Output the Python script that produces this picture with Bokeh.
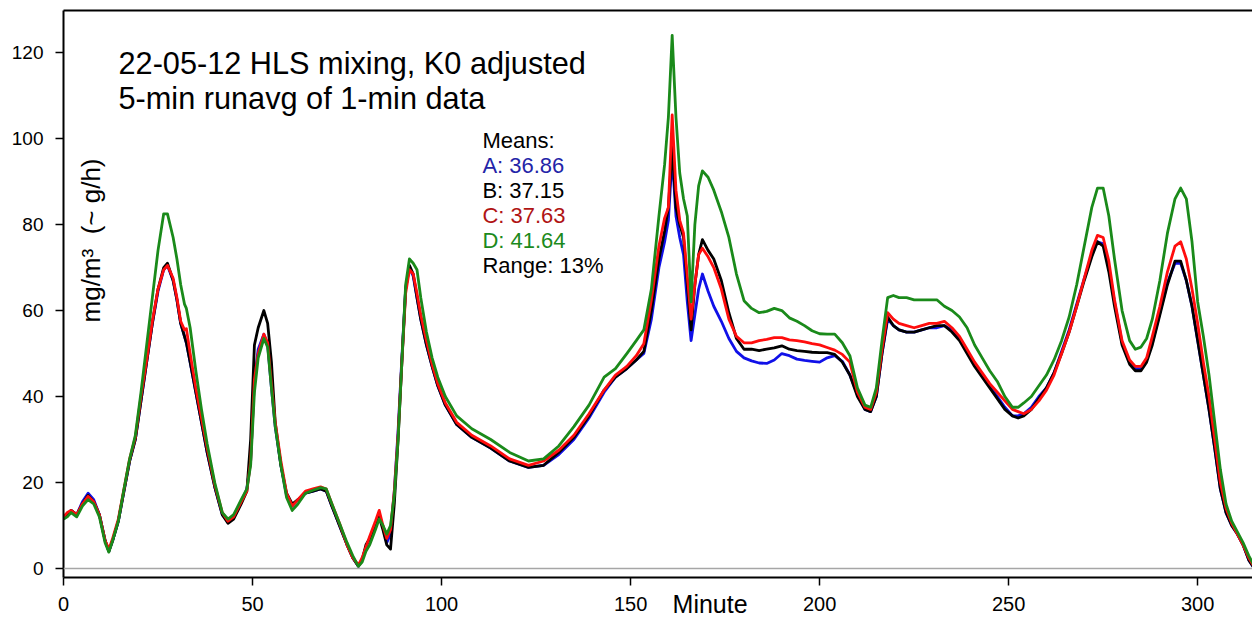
from bokeh.plotting import figure
from bokeh.models import Range1d, Span, Label, LinearAxis, FixedTicker
from bokeh.embed import file_html
from bokeh.resources import INLINE

minutes = [0, 1, 2, 3.5, 5, 6.5, 8, 9.5, 11, 12, 13, 14.5, 16, 17.5, 19, 20.5, 22, 23.5, 25, 26.5,
           27.5, 29, 30, 31, 32, 32.5, 33.5, 35, 36.5, 38, 40, 42, 43.5, 45, 47, 48.5, 49.5, 50.5, 51.5, 53,
           54, 55, 56, 57.5, 59, 60.5, 62, 64, 66, 68, 69.5, 71, 73, 75, 76.5, 78, 79, 80, 81, 82.5,
           83.5, 84.5, 85.5, 86.5, 87.5, 88.5, 89.5, 90.5, 91.5, 92.5, 93.5, 94.5, 96, 97.5, 99, 101, 104, 108, 113, 118,
           123, 127, 131, 135, 139, 143, 146, 149, 151.5, 153.5, 155.5, 157.5, 159, 160, 161, 162, 163, 164, 165, 166,
           167, 168, 169, 170.5, 172, 174, 176, 178, 180, 182, 184, 186, 188, 190, 192, 194, 196, 198, 200, 202,
           204, 206, 208, 210, 212, 213.5, 215, 216.5, 218, 219.5, 221, 223, 225, 227, 229, 231, 233, 235, 237, 239,
           241, 243, 245, 247, 249, 251, 252.5, 254, 256, 258, 260, 262, 264, 266, 268, 270, 272, 273.5, 275, 276.5,
           278, 280, 282, 283.5, 285, 286.5, 288, 290, 292, 294, 295.5, 297, 298.5, 300, 301.5, 303, 304.5, 306, 307.5, 309,
           310.5, 312, 313.5, 315]

series_b = [11.5, 12.5, 13.5, 12.5, 15.0, 17.0, 15.5, 12.5, 6.5, 4.0, 6.5, 11.0, 18.0, 25.0, 30.0, 39.0, 48.0, 57.0, 65.0, 70.0,
            71.0, 67.0, 62.5, 57.0, 54.0, 52.5, 48.0, 41.0, 34.0, 27.0, 19.0, 12.5, 10.5, 11.5, 15.0, 18.0, 30.0, 52.0, 56.0, 60.0,
            57.0, 48.0, 34.0, 24.0, 17.5, 15.0, 16.0, 17.5, 18.0, 18.5, 18.0, 14.5, 10.0, 5.5, 2.5, 0.5, 2.0, 5.5, 7.0, 10.0,
            12.0, 9.0, 5.5, 4.5, 15.0, 30.0, 48.0, 65.0, 70.5, 68.5, 63.0, 58.0, 52.0, 47.0, 42.5, 38.0, 33.5, 30.5, 28.0, 25.0,
            23.5, 24.0, 27.0, 30.5, 35.5, 41.5, 44.5, 46.5, 48.5, 50.5, 60.0, 72.0, 78.5, 84.0, 98.0, 84.0, 80.0, 77.0, 66.0, 55.5,
            66.0, 73.0, 76.5, 74.0, 72.0, 67.0, 59.5, 53.5, 51.0, 51.0, 50.7, 51.0, 51.3, 51.8, 51.0, 50.7, 50.5, 50.3, 50.2, 50.2,
            49.8, 48.0, 45.0, 40.0, 37.0, 36.5, 40.0, 50.0, 58.5, 56.5, 55.5, 55.0, 55.0, 55.5, 56.0, 56.5, 56.5, 55.0, 53.0, 50.0,
            47.0, 44.5, 42.0, 39.5, 37.0, 35.5, 35.0, 35.5, 37.0, 39.5, 42.0, 45.5, 50.0, 55.0, 61.0, 67.0, 72.5, 76.0, 75.0, 69.0,
            61.0, 52.0, 47.5, 46.0, 46.0, 48.0, 52.0, 59.0, 66.0, 71.5, 71.5, 67.0, 61.0, 53.0, 45.0, 37.0, 28.0, 18.5, 13.0, 10.0,
            8.0, 5.5, 2.0, 0.0]

series_a = [11.5, 12.5, 13.5, 12.5, 15.5, 17.5, 16.0, 12.5, 6.5, 4.0, 6.5, 11.0, 18.0, 25.0, 30.0, 39.0, 48.0, 57.0, 64.5, 69.5,
            70.5, 67.0, 62.5, 57.0, 54.0, 52.5, 48.0, 41.0, 34.0, 27.0, 19.0, 12.5, 11.0, 12.0, 15.5, 18.5, 25.0, 44.0, 51.0, 54.5,
            52.0, 42.0, 33.0, 24.0, 17.0, 14.5, 16.0, 17.5, 18.0, 18.5, 18.0, 14.5, 10.0, 5.5, 2.5, 0.5, 2.0, 5.0, 7.0, 10.0,
            12.5, 9.5, 6.0, 8.0, 18.0, 32.0, 49.0, 65.0, 70.0, 68.0, 63.0, 58.0, 52.0, 47.0, 42.5, 38.0, 33.5, 30.5, 28.0, 25.0,
            23.5, 24.0, 26.5, 30.0, 35.0, 41.0, 44.5, 46.5, 48.5, 50.0, 58.0, 70.0, 76.0, 81.0, 96.0, 82.0, 77.0, 73.0, 62.0, 53.0,
            59.0, 65.0, 68.5, 64.5, 61.0, 57.5, 53.5, 50.5, 49.0, 48.3, 47.8, 47.7, 48.5, 50.0, 49.5, 48.7, 48.4, 48.2, 48.0, 49.0,
            49.5, 48.2, 45.0, 40.5, 37.0, 36.5, 40.0, 50.0, 58.0, 56.5, 55.5, 55.0, 55.0, 55.5, 56.0, 56.0, 56.5, 55.5, 53.5, 50.5,
            47.5, 45.0, 42.5, 40.0, 37.5, 35.5, 35.5, 36.0, 37.5, 40.0, 42.0, 45.5, 50.5, 55.5, 61.5, 67.5, 73.0, 76.0, 75.5, 70.0,
            62.0, 52.5, 48.0, 46.5, 46.5, 48.5, 52.5, 59.5, 66.5, 71.0, 71.0, 67.0, 61.0, 53.0, 45.0, 37.0, 28.0, 18.5, 13.0, 10.0,
            8.0, 5.5, 2.0, 0.0]

series_c = [12.0, 13.0, 13.5, 12.5, 15.0, 16.8, 15.5, 12.5, 6.5, 4.5, 7.0, 11.5, 18.5, 25.5, 30.5, 40.0, 48.5, 57.5, 65.0, 69.5,
            70.5, 67.5, 63.0, 57.5, 55.5, 55.8, 50.0, 42.0, 35.0, 28.0, 19.5, 13.0, 11.0, 12.0, 15.5, 18.0, 25.0, 44.0, 50.0, 54.5,
            52.5, 43.0, 34.0, 25.0, 17.5, 14.5, 16.0, 18.0, 18.5, 19.0, 18.5, 15.0, 10.5, 5.5, 2.5, 0.8, 2.5, 5.0, 7.5, 11.0,
            13.5, 10.0, 7.0, 9.0, 18.0, 31.0, 48.0, 64.0, 69.5, 68.5, 64.0, 59.0, 53.0, 47.5, 43.0, 38.5, 34.0, 31.0, 28.5, 25.5,
            24.0, 25.0, 27.5, 31.0, 36.0, 41.5, 45.0, 47.0, 49.5, 52.3, 62.5, 75.0, 81.5, 84.0, 105.5, 88.0, 81.0, 78.0, 68.0, 58.0,
            66.0, 73.0, 74.5, 72.5, 70.0, 65.0, 58.0, 54.0, 52.5, 52.5, 53.0, 53.3, 53.7, 53.7, 53.2, 53.0, 52.7, 52.3, 52.0, 51.4,
            50.8, 49.8, 48.0, 41.0, 37.5, 37.0, 41.0, 51.0, 59.5, 58.0, 57.0, 56.5, 56.0, 56.5, 57.0, 57.0, 57.5, 56.0, 54.0, 51.0,
            48.0, 45.5, 43.0, 41.0, 39.0, 37.0, 36.5, 36.0, 37.0, 39.0, 41.5, 45.0, 50.0, 55.0, 61.0, 67.5, 74.0, 77.5, 77.0, 71.5,
            62.5, 53.0, 48.5, 47.0, 47.0, 49.0, 54.0, 61.0, 69.0, 75.0, 76.0, 72.0, 65.0, 57.0, 48.0, 40.0, 30.0, 20.0, 14.0, 10.5,
            8.0, 5.5, 2.5, 0.3]

series_d = [11.5, 12.0, 13.0, 12.0, 14.5, 16.0, 15.0, 12.0, 6.0, 3.8, 6.5, 11.0, 18.5, 25.5, 31.0, 41.0, 52.0, 63.0, 74.0, 82.5,
            82.5, 77.0, 72.0, 66.0, 61.5, 60.5, 56.0, 46.0, 37.0, 29.0, 20.0, 13.0, 11.5, 12.5, 16.0, 18.5, 24.0, 41.0, 49.0, 53.5,
            51.5, 42.0, 33.0, 24.0, 16.5, 13.5, 15.0, 17.5, 18.2, 18.8, 18.5, 15.0, 10.5, 6.0, 3.0, 0.5, 1.5, 4.0, 5.5, 9.0,
            11.5, 10.0, 8.0, 10.0, 17.0, 30.0, 48.0, 66.0, 72.0, 71.0, 69.5, 63.0, 55.0, 49.0, 44.5, 40.0, 35.5, 32.5, 30.0, 27.0,
            25.0, 25.5, 28.5, 33.0, 38.0, 44.5, 46.5, 50.0, 53.0, 55.5, 65.0, 82.0, 94.0, 105.0, 124.0, 105.0, 92.0, 86.0, 82.0, 62.0,
            80.0, 89.0, 92.5, 91.0, 88.0, 83.0, 77.0, 68.5, 62.3, 60.5, 59.5, 59.8, 60.5, 60.0, 58.3, 57.5, 56.5, 55.3, 54.6, 54.5,
            54.5, 52.5, 49.5, 42.0, 38.0, 37.5, 42.0, 53.0, 63.0, 63.5, 63.0, 63.0, 62.5, 62.5, 62.5, 62.5, 61.0, 60.0, 58.5, 56.0,
            52.0, 49.0, 46.0, 43.5, 40.0, 37.5, 37.5, 38.5, 40.0, 42.5, 45.0, 48.5, 53.0, 58.5, 66.0, 75.0, 84.0, 88.5, 88.5, 82.0,
            72.0, 60.0, 53.0, 51.0, 51.5, 53.5, 58.0, 67.0, 78.0, 86.0, 88.5, 86.0, 76.0, 62.0, 54.0, 45.0, 34.0, 23.0, 15.0, 11.0,
            8.5, 6.0, 3.0, 0.5]

series_names = ["A", "B", "C", "D"]
line_colors = ["#1010e8", "#000000", "#ff0d0d", "#1a8a1a"]

title_lines = ["22-05-12 HLS mixing, K0 adjusted", "5-min runavg of 1-min data"]
means_lines = ["Means:", "A: 36.86", "B: 37.15", "C: 37.63", "D: 41.64", "Range: 13%"]
means_colors = ["#000000", "#2424a8", "#000000", "#b01414", "#1c8a1c", "#000000"]
x_ticks = [0, 50, 100, 150, 200, 250, 300]
y_ticks = [0, 20, 40, 60, 80, 100, 120]
x_label = "Minute"
y_label = "mg/m\u00b3\u00a0\u00a0(~ g/h)"

FONT = "Liberation Sans"

p = figure(width=1252, height=627, output_backend="svg", toolbar_location=None,
           x_range=Range1d(0, 314.5), y_range=Range1d(-2.1, 129.8),
           min_border_left=63, min_border_right=0, min_border_top=10, min_border_bottom=50)
p.grid.visible = False
p.outline_line_color = None
p.background_fill_color = "white"
p.border_fill_color = "white"

for ax in (p.xaxis[0], p.yaxis[0]):
    ax.axis_line_color = "black"
    ax.axis_line_width = 2
    ax.major_tick_line_color = "black"
    ax.major_tick_line_width = 1.5
    ax.major_tick_in = 0
    ax.major_tick_out = 8
    ax.minor_tick_line_color = None
    ax.major_label_text_font = FONT
    ax.major_label_text_color = "black"

p.xaxis[0].ticker = FixedTicker(ticks=x_ticks)
p.yaxis[0].ticker = FixedTicker(ticks=y_ticks)
p.xaxis[0].major_label_text_font_size = "20px"
p.yaxis[0].major_label_text_font_size = "19px"
p.xaxis[0].major_label_standoff = 11
p.yaxis[0].major_label_standoff = 12

# x-axis title, shifted right of the frame centre with leading no-break spaces
p.xaxis[0].axis_label = "\u00a0" * 15 + x_label
p.xaxis[0].axis_label_text_font = FONT
p.xaxis[0].axis_label_text_font_size = "25px"
p.xaxis[0].axis_label_text_font_style = "normal"
p.xaxis[0].axis_label_text_color = "black"
p.xaxis[0].axis_label_standoff = -24

top_axis = LinearAxis(ticker=FixedTicker(ticks=[]), axis_line_color="black", axis_line_width=2,
                      major_tick_out=0, major_tick_in=0, minor_tick_line_color=None,
                      major_label_text_font_size="0px")
p.add_layout(top_axis, "above")

p.add_layout(Span(location=0, dimension="width", line_color="#a6a6a6", line_width=1.5))

for vals, col in zip([series_a, series_b, series_c, series_d], line_colors):
    p.line(minutes, vals, line_color=col, line_width=2.8, line_join="round")

title_y = [117.4, 109.3]
for t, yy in zip(title_lines, title_y):
    p.add_layout(Label(x=14.55, y=yy, text=t, text_font=FONT, text_font_size="30.7px",
                       text_color="black", text_baseline="alphabetic", text_align="left"))

means_y = [99.5, 93.7, 87.9, 82.1, 76.3, 70.5]
for t, c, yy in zip(means_lines, means_colors, means_y):
    p.add_layout(Label(x=110.8, y=yy, text=t, text_font=FONT, text_font_size="22px",
                       text_color=c, text_baseline="alphabetic", text_align="left"))

p.add_layout(Label(x=7.2, y=76.3, text=y_label, angle=1.5708, text_font=FONT, text_font_size="26px",
                   text_color="black", text_baseline="middle", text_align="center"))

open("out.html", "w").write(file_html(p, INLINE))
